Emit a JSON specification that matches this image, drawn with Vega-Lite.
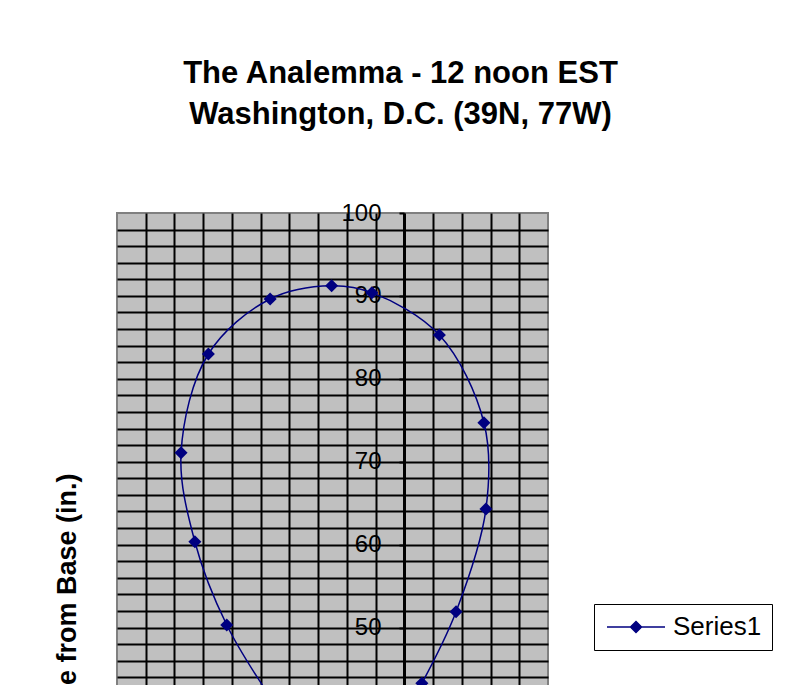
{
  "$schema": "https://vega.github.io/schema/vega-lite/v6.json",
  "autosize": "none",
  "width": 431,
  "height": 829,
  "padding": {"left": 117, "top": 213, "right": 241, "bottom": 0},
  "background": "white",
  "title": {
    "text": ["The Analemma - 12 noon EST", "Washington, D.C. (39N, 77W)"],
    "font": "Liberation Sans",
    "fontSize": 31,
    "fontWeight": "bold",
    "color": "black",
    "anchor": "middle",
    "frame": "group",
    "dx": 68,
    "offset": 70,
    "lineHeight": 41
  },
  "config": {
    "view": {"fill": "#C0C0C0", "stroke": "#808080", "strokeWidth": 2},
    "axis": {"labelFont": "Liberation Sans", "titleFont": "Liberation Sans"}
  },
  "data": {
    "values": [
      {"order": 1, "x": -4.60, "y": 41.25, "series": "Series1"},
      {"order": 2, "x": -6.18, "y": 50.30, "series": "Series1"},
      {"order": 3, "x": -7.29, "y": 60.35, "series": "Series1"},
      {"order": 4, "x": -7.77, "y": 71.09, "series": "Series1"},
      {"order": 5, "x": -6.82, "y": 82.99, "series": "Series1"},
      {"order": 6, "x": -4.67, "y": 89.63, "series": "Series1"},
      {"order": 7, "x": -2.53, "y": 91.23, "series": "Series1"},
      {"order": 8, "x": -1.13, "y": 90.39, "series": "Series1"},
      {"order": 9, "x": 1.22, "y": 85.28, "series": "Series1"},
      {"order": 10, "x": 2.77, "y": 74.70, "series": "Series1"},
      {"order": 11, "x": 2.84, "y": 64.29, "series": "Series1"},
      {"order": 12, "x": 1.80, "y": 51.91, "series": "Series1"},
      {"order": 13, "x": 0.61, "y": 43.27, "series": "Series1"}
    ]
  },
  "layer": [
    {
      "mark": {"type": "line", "interpolate": "catmull-rom", "strokeWidth": 1.5},
      "encoding": {
        "x": {
          "field": "x", "type": "quantitative",
          "scale": {"domain": [-10, 5], "nice": false, "zero": false},
          "axis": {
            "grid": true, "values": [-9, -8, -7, -6, -5, -4, -3, -2, -1, 0, 1, 2, 3, 4],
            "labels": false, "ticks": false, "domain": false, "title": null,
            "gridColor": "black", "gridWidth": 2, "gridOpacity": 1
          }
        },
        "y": {
          "field": "y", "type": "quantitative",
          "scale": {"domain": [0, 100], "nice": false, "zero": false},
          "axis": {
            "orient": "left",
            "grid": true,
            "values": [2, 4, 6, 8, 10, 12, 14, 16, 18, 20, 22, 24, 26, 28, 30, 32, 34, 36, 38, 40, 42, 44, 46, 48, 50, 52, 54, 56, 58, 60, 62, 64, 66, 68, 70, 72, 74, 76, 78, 80, 82, 84, 86, 88, 90, 92, 94, 96, 98],
            "labels": false, "ticks": false, "domain": false,
            "gridColor": "black", "gridWidth": 2, "gridOpacity": 1,
            "title": "Distance from Base (in.)",
            "titleFont": "Liberation Sans",
            "titleFontSize": 27,
            "titleFontWeight": "bold",
            "titleColor": "black",
            "titleAngle": 270,
            "titleAlign": "center",
            "titleBaseline": "alphabetic",
            "titleX": -42,
            "titleY": 414.5
          }
        },
        "order": {"field": "order", "type": "quantitative"},
        "color": {
          "field": "series", "type": "nominal",
          "scale": {"range": ["#000080"]},
          "legend": {
            "title": null,
            "orient": "none",
            "legendX": 477,
            "legendY": 391,
            "strokeColor": "black",
            "padding": 10,
            "symbolType": "M-5.8,0H5.8M0,-1.1L1.1,0L0,1.1L-1.1,0Z",
            "symbolSize": 100,
            "symbolFillColor": "#000080",
            "symbolStrokeColor": "#000080",
            "symbolStrokeWidth": 1.5,
            "symbolOffset": 19,
            "labelOffset": 24,
            "labelFont": "Liberation Sans",
            "labelFontSize": 26,
            "labelColor": "black"
          }
        }
      }
    },
    {
      "mark": {"type": "point", "shape": "diamond", "filled": true, "size": 170, "opacity": 1},
      "encoding": {
        "x": {"field": "x", "type": "quantitative", "axis": null},
        "y": {
          "field": "y", "type": "quantitative",
          "axis": {
            "orient": "left",
            "offset": -287,
            "grid": false,
            "values": [0, 10, 20, 30, 40, 50, 60, 70, 80, 90, 100],
            "domainColor": "black", "domainWidth": 3,
            "tickColor": "black", "tickWidth": 2, "tickSize": 5,
            "labelFont": "Liberation Sans", "labelFontSize": 24, "labelColor": "black",
            "labelPadding": 18,
            "title": null
          }
        },
        "color": {"field": "series", "type": "nominal"}
      }
    }
  ],
  "resolve": {"axis": {"x": "independent", "y": "independent"}}
}
